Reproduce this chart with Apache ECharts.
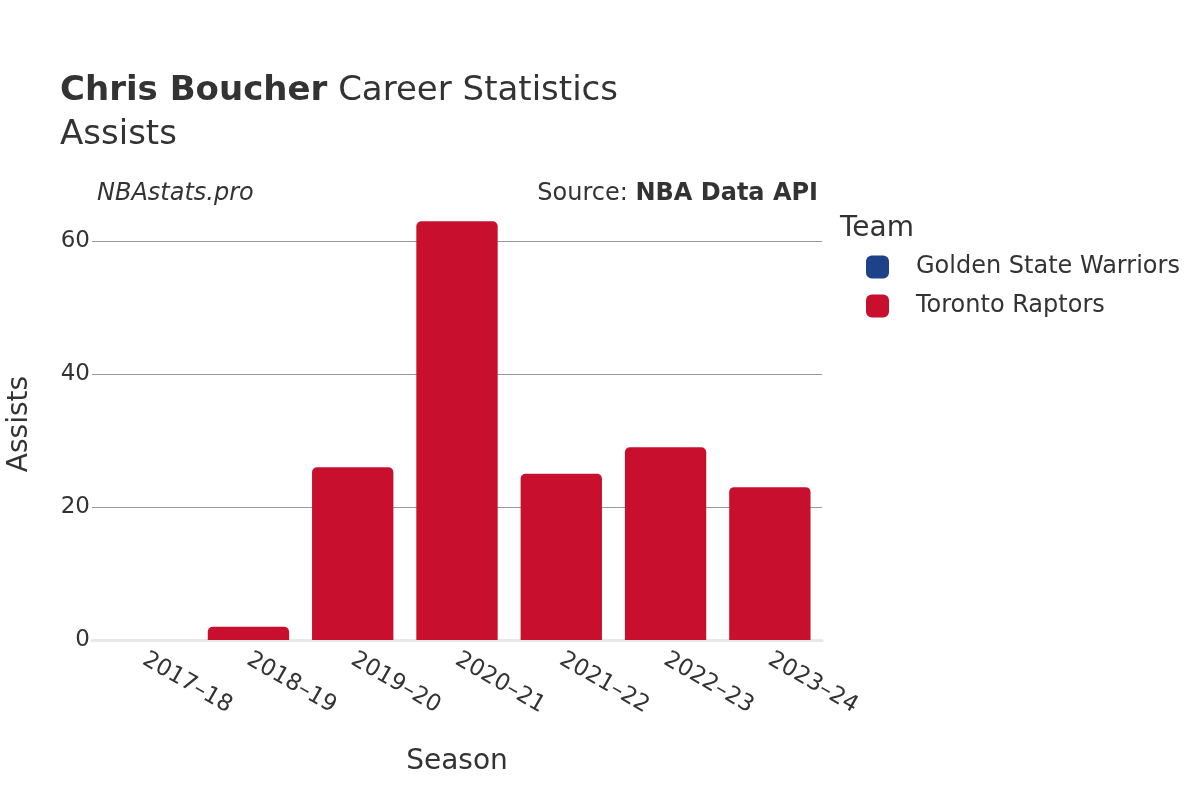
<!DOCTYPE html>
<html>
<head>
<meta charset="utf-8">
<script src="https://cdn.jsdelivr.net/npm/echarts@6/dist/echarts.min.js"></script>
<style>
  html, body { margin: 0; padding: 0; background: #fff; }
  #chart { width: 1200px; height: 800px; }
</style>
</head>
<body>
<div id="chart"></div>
<script>
  const seasons = ['2017–18', '2018–19', '2019–20', '2020–21', '2021–22', '2022–23', '2023–24'];
  const warriorsAssists = [0, null, null, null, null, null, null];
  const raptorsAssists = [null, 2, 26, 63, 25, 29, 23];
  const yTicks = [0, 20, 40, 60];

  const font = '"DejaVu Sans", Verdana, sans-serif';
  const textColor = '#333';

  const chart = echarts.init(document.getElementById('chart'));

  const option = {
    animation: false,
    textStyle: { fontFamily: font, color: textColor },
    title: {
      text: '{b|Chris Boucher} Career Statistics\nAssists',
      left: 55,
      top: 64,
      textStyle: {
        fontFamily: font,
        fontSize: 34,
        fontWeight: 'normal',
        color: textColor,
        lineHeight: 44,
        rich: {
          b: { fontFamily: font, fontSize: 34, fontWeight: 'bold', color: textColor }
        }
      }
    },
    graphic: [
      {
        type: 'text',
        left: 97,
        top: 182,
        style: { text: 'NBAstats.pro', font: 'italic 24px ' + font, fill: textColor }
      },
      {
        type: 'text',
        right: 382,
        top: 182,
        style: {
          text: '{n|Source: }{b|NBA Data API}',
          fill: textColor,
          rich: {
            n: { fontFamily: font, fontSize: 24, fill: textColor },
            b: { fontFamily: font, fontSize: 24, fontWeight: 'bold', fill: textColor }
          }
        }
      },
      {
        type: 'text',
        left: 840,
        top: 215,
        style: { text: 'Team', font: '28px ' + font, fill: textColor }
      }
    ],
    legend: {
      orient: 'vertical',
      left: 861,
      top: 250,
      icon: 'roundRect',
      itemWidth: 23,
      itemHeight: 23,
      itemGap: 15,
      textStyle: { fontFamily: font, fontSize: 24, color: textColor, padding: [0, 0, 0, 22] },
      data: ['Golden State Warriors', 'Toronto Raptors']
    },
    grid: {
      left: 92,
      right: 378,
      top: 208,
      bottom: 160,
      outerBoundsMode: 'none'
    },
    xAxis: {
      type: 'category',
      data: seasons,
      name: 'Season',
      nameLocation: 'middle',
      nameGap: 108,
      nameTextStyle: { fontFamily: font, fontSize: 28, color: textColor },
      axisLine: { show: true, lineStyle: { color: '#e8e8e8', width: 3 } },
      axisTick: { show: false },
      axisLabel: {
        rotate: -30,
        fontFamily: font,
        fontSize: 23,
        color: textColor,
        margin: 18
      }
    },
    yAxis: {
      type: 'value',
      min: 0,
      max: 65,
      interval: 20,
      name: 'Assists',
      nameLocation: 'middle',
      nameGap: 58,
      nameTextStyle: { fontFamily: font, fontSize: 28, color: textColor },
      axisLine: { show: false },
      axisTick: { show: false },
      axisLabel: {
        showMaxLabel: false,
        fontFamily: font,
        fontSize: 23,
        color: textColor,
        margin: 2,
        formatter: v => (yTicks.indexOf(v) >= 0 ? String(v) : '')
      },
      splitLine: {
        lineStyle: { color: ['#e8e8e8', '#999', '#999', '#999', 'rgba(0,0,0,0)'], width: 1 }
      }
    },
    series: [
      {
        name: 'Golden State Warriors',
        type: 'bar',
        stack: 'team',
        data: warriorsAssists,
        barCategoryGap: '22%',
        itemStyle: { color: '#1D428A', borderRadius: [5, 5, 0, 0] }
      },
      {
        name: 'Toronto Raptors',
        type: 'bar',
        stack: 'team',
        data: raptorsAssists,
        barCategoryGap: '22%',
        itemStyle: { color: '#C8102E', borderRadius: [5, 5, 0, 0] }
      }
    ]
  };

  chart.setOption(option);
</script>
</body>
</html>
